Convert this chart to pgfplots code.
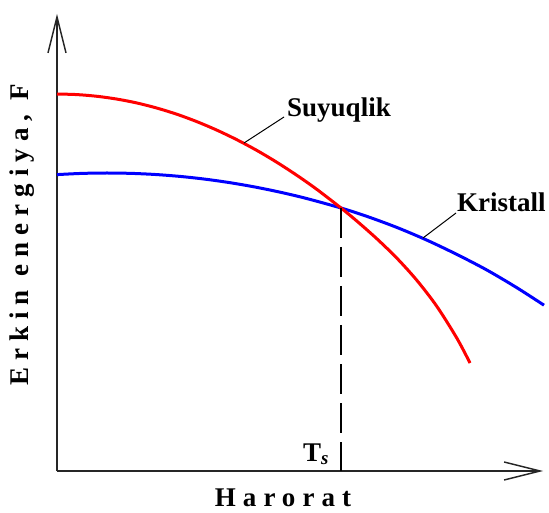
\documentclass[border=0pt]{standalone}
\usepackage{fontspec}
\setmainfont{Liberation Serif}
\newfontfamily\spaced[LetterSpace=26]{Liberation Serif}
\usepackage{pgfplots}
\pgfplotsset{compat=1.18}
\usetikzlibrary{arrows.meta}
\begin{document}
\begin{tikzpicture}
\begin{axis}[width=549pt,height=512pt,scale only axis,
  xmin=-57,xmax=492,ymin=-41,ymax=471,axis lines=none,clip=false]
\coordinate (ll) at (axis cs:-57,-41);
\coordinate (ur) at (axis cs:492,471);
% axes
\draw[line width=1.6pt, color=black!85, -{Straight Barb[length=36pt,width=18pt,line width=1.4pt]}] (axis cs:0,0) -- (axis cs:486,0);
\draw[line width=1.6pt, color=black!85, -{Straight Barb[length=36pt,width=18pt,line width=1.4pt]}] (axis cs:0,0) -- (axis cs:0,457);
% curves
\addplot[blue, line width=3pt, smooth] coordinates {
(0,296.4) (25,297.6) (50,298) (75,297.6) (100,296.4) (125,294.4) (150,291.6) (175,288.0) (200,283.6) (225,278.4) (250,272.4) (284,263.0) (310,254.6) (340,243.5) (370,230.8) (400,216.5) (430,200.9) (460,183.2) (487,165.8)};
\addplot[red, line width=3pt, smooth] coordinates {
(0,377) (20,376.4) (40,374.7) (60,371.9) (80,368.0) (100,362.9) (120,356.7) (140,349.3) (160,340.8) (180,331.2) (200,320.5) (220,308.6) (240,295.6) (260,281.5) (284,263.0) (300,249.8) (320,232.1) (340,212.7) (360,190.5) (380,164.4) (400,132.6) (413,108.0)};
\addplot[black, line width=1.4pt, dash pattern=on 30pt off 9pt] coordinates {(284,263) (284,0)};
% leader lines
\draw[black, line width=1pt] (axis cs:187,328) -- (axis cs:227,354);
\draw[black, line width=1pt] (axis cs:366,233) -- (axis cs:399,258);
% labels
\node[anchor=base west, font=\bfseries\fontsize{27}{30}\selectfont, inner sep=0pt] at (axis cs:230,354) {Suyuqlik};
\node[anchor=base west, font=\bfseries\fontsize{27}{30}\selectfont, inner sep=0pt] at (axis cs:400,259) {Kristall};
\node[anchor=base west, font=\bfseries\fontsize{27}{30}\selectfont, inner sep=0pt] at (axis cs:246,10) {T\textsubscript{\textit{s}}};
\node[font=\spaced\bfseries\fontsize{27}{30}\selectfont, inner sep=0pt] at (axis cs:226,-27) {Harorat};
\node[rotate=90, font=\spaced\bfseries\fontsize{27}{30}\selectfont, inner sep=0pt] at (axis cs:-35,236) {Erkin energiya, F};
\end{axis}
\pgfresetboundingbox
\useasboundingbox (ll) rectangle (ur);
\end{tikzpicture}
\end{document}
